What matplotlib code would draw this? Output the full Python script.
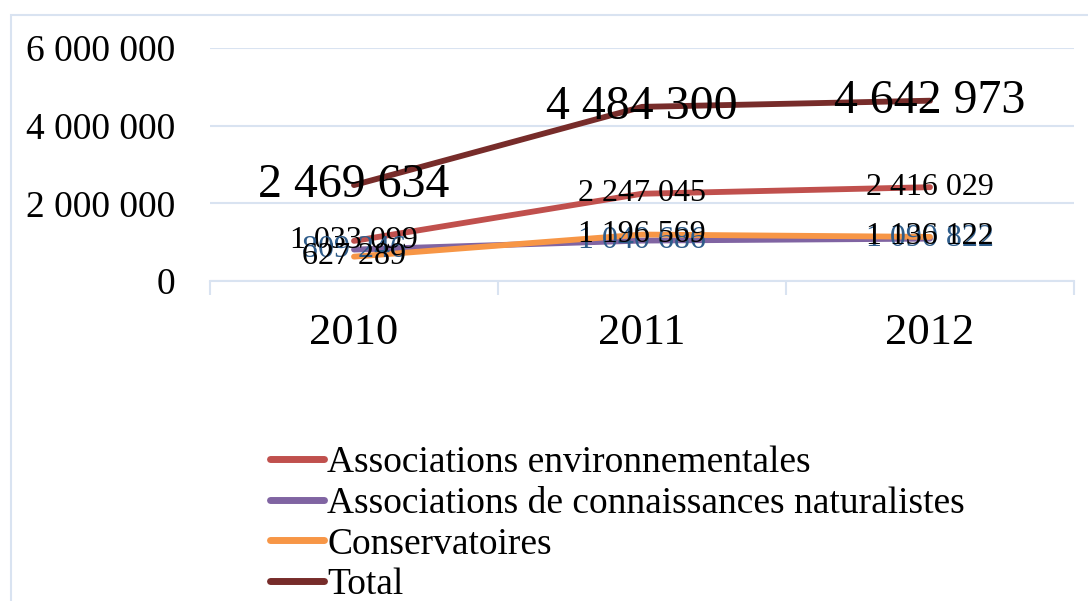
import matplotlib
matplotlib.use("Agg")
import matplotlib.pyplot as plt
from matplotlib.patches import Rectangle
from matplotlib.ticker import FuncFormatter, FixedLocator

plt.rcParams['font.family'] = ['Liberation Serif', 'DejaVu Serif']

# données
years = ['2010', '2011', '2012']
env = [1033099, 2247045, 2416029]
naturalistes = [809246, 1040686, 1090822]
conservatoires = [627289, 1196569, 1136122]
total = [2469634, 4484300, 4642973]

series_names = ['Associations environnementales',
                'Associations de connaissances naturalistes',
                'Conservatoires',
                'Total']

grid_col = '#D9E3F1'

fig = plt.figure(figsize=(10.88, 6.01), dpi=100)
# cadre extérieur du graphique
fig.patches.append(Rectangle((11 / 1088, -0.1), 1.2, 1.1 - 15 / 601,
                             transform=fig.transFigure, fill=False,
                             edgecolor=grid_col, linewidth=1.5))

ax = fig.add_axes([210 / 1088, 1 - 281 / 601, 864 / 1088, 233 / 601])
x = range(len(years))

lw = 4.2
ax.plot(x, env, color='#C0504D', linewidth=lw, solid_capstyle='round', label=series_names[0], zorder=3)
ax.plot(x, naturalistes, color='#8064A2', linewidth=lw, solid_capstyle='round', label=series_names[1], zorder=3)
ax.plot(x, conservatoires, color='#F79646', linewidth=lw, solid_capstyle='round', label=series_names[2], zorder=3)
ax.plot(x, total, color='#772C2A', linewidth=lw, solid_capstyle='round', label=series_names[3], zorder=3)

fmt = lambda v: f"{v:,}".replace(',', ' ')

# étiquettes de données, centrées sur les points
for i in x:
    ax.text(i, total[i], fmt(total[i]), ha='center', va='center', fontsize=34.5, color='black', zorder=5)
    ax.text(i, env[i], fmt(env[i]), ha='center', va='center', fontsize=23, color='black', zorder=5)
    ax.text(i, naturalistes[i], fmt(naturalistes[i]), ha='center', va='center', fontsize=23, color='#2E5C8A', zorder=5)
    ax.text(i, conservatoires[i], fmt(conservatoires[i]), ha='center', va='center', fontsize=23, color='black', zorder=5)

ax.set_xlim(-0.5, 2.5)
ax.set_ylim(0, 6000000)
ax.set_yticks([0, 2000000, 4000000, 6000000])
ax.yaxis.set_major_formatter(FuncFormatter(lambda v, p: fmt(int(v))))
ax.tick_params(axis='y', length=0, labelsize=27, pad=25)
ax.grid(axis='y', color=grid_col, linewidth=1.5)
ax.set_axisbelow(True)

ax.set_xticks(list(x))
ax.set_xticklabels(years)
ax.tick_params(axis='x', which='major', length=0, labelsize=32, pad=23)
ax.xaxis.set_minor_locator(FixedLocator([-0.5, 0.5, 1.5, 2.5]))
ax.tick_params(axis='x', which='minor', length=10, width=1.5, color=grid_col)

for s in ['top', 'right', 'left']:
    ax.spines[s].set_visible(False)
ax.spines['bottom'].set_color(grid_col)
ax.spines['bottom'].set_linewidth(1.5)

leg = fig.legend(loc='upper left', bbox_to_anchor=(270 / 1088, 1 - 446 / 601),
                 frameon=False, fontsize=27, handlelength=1.45, handletextpad=0.08,
                 labelspacing=0.16, borderaxespad=0, borderpad=0)
for h in leg.legend_handles:
    h.set_linewidth(5)

fig.savefig('out.png', dpi=100)
